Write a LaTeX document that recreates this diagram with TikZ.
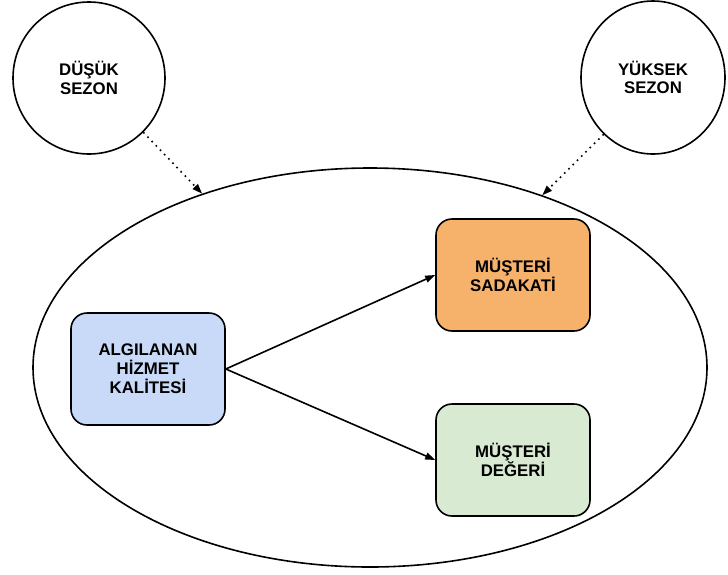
\documentclass[tikz,border=0pt]{standalone}
\usepackage{fontspec}
\setmainfont{Liberation Sans}
\usetikzlibrary{shapes.geometric,arrows.meta}
\definecolor{boxblue}{HTML}{C9DAF8}
\definecolor{boxorange}{HTML}{F6B26B}
\definecolor{boxgreen}{HTML}{D9EAD3}
\begin{document}
\begin{tikzpicture}[x=1pt,y=-1pt,
  every node/.style={font=\fontsize{16.8}{18.8}\selectfont\bfseries, align=center},
  season/.style={draw, line width=1.6pt, ellipse, inner sep=0pt},
  factor/.style={draw, line width=1.6pt, rounded corners=16pt, minimum width=154pt, minimum height=112pt, inner sep=0pt},
  flow/.style={line width=1.6pt, -{Triangle[length=10pt,width=7pt]}},
  influence/.style={line width=1.6pt, dash pattern=on 1.6pt off 4.4pt, -{Triangle[length=10pt,width=7pt]}}
]
\useasboundingbox (0,0) rectangle (728,574);

% outer frame holding the model
\node[season, minimum width=674pt, minimum height=399pt] (E) at (370,367.5) {};

% seasons
\node[season, minimum width=152pt, minimum height=152pt] (L) at (89,78) {DÜŞÜK\\SEZON};
\node[season, minimum width=144pt, minimum height=153pt] (R) at (653,77.5) {YÜKSEK\\SEZON};

% factors
\node[factor, fill=boxblue] (B) at (148,369) {ALGILANAN\\HİZMET\\KALİTESİ};
\node[factor, fill=boxorange] (O) at (513,275) {MÜŞTERİ\\SADAKATİ};
\node[factor, fill=boxgreen] (G) at (513,460) {MÜŞTERİ\\DEĞERİ};

% relations
\draw[flow] (B.east) -- (O.west);
\draw[flow] (B.east) -- (G.west);
\draw[influence] (L.-45) -- (E.134);
\draw[influence] (R.-131) -- (E.45);
\end{tikzpicture}
\end{document}
